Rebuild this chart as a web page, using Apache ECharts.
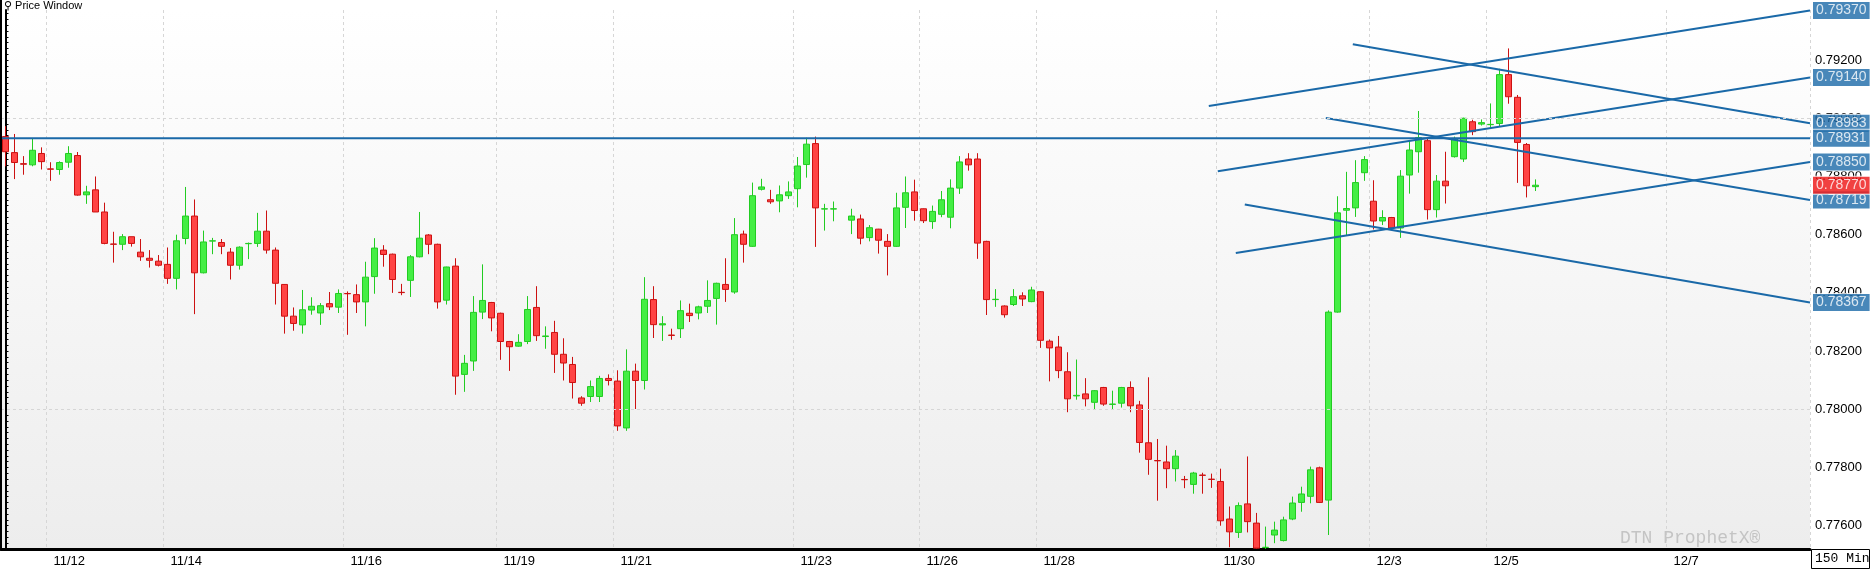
<!DOCTYPE html>
<html>
<head>
<meta charset="utf-8">
<script src="https://cdn.jsdelivr.net/npm/echarts@6/dist/echarts.min.js"></script>
<style>
  html, body { margin: 0; padding: 0; background: #fff; }
  #chart { width: 1870px; height: 569px; }
</style>
</head>
<body>
<div id="chart"></div>
<script>
// 150 Min bars, values in 1/10000 (pips): [open, close, low, high]
var bars = [
  [7893.7,7888.5,7883.5,7897.3],[7888.2,7884.8,7879.1,7894.6],[7884.4,7884.2,7880.6,7887],[7884,7889,7883.5,7893],
  [7887.9,7885.1,7882.4,7890],[7882.6,7882.5,7878.5,7884.9],[7882.4,7884.8,7880.6,7885.2],[7884.9,7887.9,7883,7890.4],
  [7887.2,7873.6,7873.4,7888.4],[7873.7,7874.7,7870.6,7876.8],[7875.4,7867.8,7867.8,7880],[7867.8,7857,7856.7,7871],
  [7856.8,7856.7,7850.4,7861],[7856.7,7859.3,7854.7,7860.2],[7859.3,7857,7855.9,7859.3],[7854,7852.4,7851,7858.5],
  [7851.9,7851.2,7848.7,7854.7],[7850.9,7849.5,7849.1,7853],[7849.8,7845,7843.1,7855.6],[7845,7857.9,7841.2,7860],
  [7858.7,7866.4,7856.7,7876.4],[7866.4,7846.9,7832.7,7872.1],[7846.9,7857.5,7846.7,7861.4],[7857.8,7857.9,7853.3,7858.9],
  [7857.3,7856,7853.3,7858.5],[7854,7849.5,7844.6,7855.4],[7849.5,7855.7,7848,7856],[7856.9,7857,7851.6,7857.3],
  [7857,7861.2,7855.8,7867.5],[7861.2,7854.7,7853.5,7868.3],[7854.7,7843.3,7836,7855.6],[7842.9,7832,7826,7843],
  [7832,7829.5,7827,7835],[7829,7834.2,7826,7841],[7834.1,7835.4,7832.5,7838.5],[7833.1,7835.6,7829,7836.5],
  [7836.3,7835.2,7834.1,7840.3],[7835.1,7839.8,7833.1,7841.2],[7839.8,7839.7,7825.6,7840.5],[7839.4,7836.9,7833.1,7842.9],
  [7836.9,7845.4,7828.5,7850.7],[7845.6,7855.4,7839.7,7858.8],[7854.7,7853.2,7849,7856.4],[7853.3,7844.6,7840,7853.5],
  [7840.2,7840.1,7839.2,7843.1],[7844.3,7852.4,7838.6,7853],[7852.4,7858.8,7852.2,7867.8],[7859.9,7856.7,7853.3,7860.2],
  [7856.7,7836.9,7834.6,7856.9],[7837.5,7848.9,7836,7849],[7849.2,7811.4,7805,7851.9],[7812,7815.8,7806,7818.7],
  [7816.6,7833.3,7813.2,7838.9],[7833.4,7837.4,7831,7849.8],[7836.7,7831.4,7826.8,7836.9],[7833,7823.3,7817,7833.2],
  [7823.3,7821.5,7813.2,7823.5],[7821.7,7823,7821.5,7825.8],[7823.3,7834.3,7822.4,7838.9],[7835,7825.3,7823.5,7842.3],
  [7825,7825.2,7820.8,7828.5],[7826.4,7818.9,7812.5,7830.4],[7818.9,7815.9,7809.9,7824.4],[7815.4,7809.2,7803.7,7818],
  [7803.9,7802.1,7801.2,7804.5],[7804.4,7807.8,7802.5,7809.9],[7804.4,7810.6,7802.5,7811.5],[7810.6,7809.9,7808.2,7812],
  [7809.7,7794.3,7792.6,7813.4],[7793.6,7813.1,7792.6,7820.6],[7813.1,7809.9,7800.1,7815.7],[7809.9,7837.8,7806.8,7845.4],
  [7837.7,7829.1,7824.5,7842.3],[7829,7829.4,7823.5,7832],[7825.5,7825.4,7823.9,7827.7],[7827.7,7833.9,7824.5,7837.4],
  [7833,7832.2,7830,7836.3],[7833.1,7835.2,7830.9,7835.6],[7835.4,7837.4,7833.1,7844.3],[7838.1,7843.3,7829.1,7843.5],
  [7842.9,7841.2,7836.9,7851.9],[7840.3,7860,7839.7,7865.7],[7860.2,7856.7,7850.4,7861.4],[7856,7873.4,7855.8,7877.9],
  [7875.6,7876.4,7875.2,7879.2],[7872,7871.3,7870.6,7875.4],[7871.6,7873.7,7867.7,7876.9],[7873.4,7874.7,7872.3,7878.3],
  [7875.8,7883.6,7869.4,7886.7],[7884.1,7891.1,7879.6,7893.3],[7891.3,7869.2,7855.8,7893.7],[7868.8,7868.9,7861.4,7870.6],
  [7868.8,7868.9,7864.6,7871.4],'-',[7865,7866.4,7860.2,7868.9],[7865.4,7858.8,7856.7,7866.9],
  [7859,7862.4,7857.7,7863.3],[7861.9,7858.1,7853.5,7862],[7857.7,7856,7846,7860.2],[7856,7869.2,7855.8,7874.4],
  [7869.4,7874.4,7862.3,7880],[7874.7,7868.3,7864.8,7878.9],[7868.9,7864.8,7864,7869],[7864.5,7868,7862,7870],
  [7867,7872,7866,7875],[7866,7876,7862.2,7879],[7876,7885,7874,7887],[7886,7884,7882,7888],
  [7886,7857.1,7851.7,7888],[7857.7,7837.7,7832.4,7857.9],[7837.7,7837.8,7835.2,7841.3],[7835.5,7832.5,7831.5,7835.7],
  [7836,7838.7,7835.5,7841.3],[7839,7837.9,7835.5,7840.2],[7837,7841,7836.8,7842.1],[7840.4,7823.7,7821.1,7840.6],
  [7823.4,7821.1,7809.6,7824],[7821.4,7813.3,7810.7,7825.2],[7812.9,7803.6,7799,7819.6],[7804.6,7804.8,7803.3,7817.1],
  [7805.3,7803.6,7801,7810.7],[7802.4,7806.4,7799.8,7806.6],[7807.5,7801.8,7801.2,7807.7],[7801.7,7801.8,7800.1,7806.4],
  [7802.1,7807.5,7800.6,7807.7],[7807.5,7801.2,7799,7809.6],[7801.5,7788.6,7785.1,7802.9],[7788.5,7782.8,7777.5,7811],
  [7782.4,7782.3,7768.6,7789.8],[7781.9,7779.6,7772.9,7787.5],[7779.6,7783.9,7775.2,7786],[7775.9,7775.8,7772.9,7777.1],
  [7774.2,7778.1,7771,7778.5],[7777.4,7777.3,7771,7778.2],[7776,7775.9,7773,7777.9],[7775.2,7761.7,7760,7779.6],
  [7762.3,7757.9,7752.6,7766.6],[7757.7,7766.9,7755.8,7768],[7767.5,7761.4,7757.7,7783.8],[7760.9,7752.3,7752,7764.4],
  [7752.5,7752.6,7752,7759.7],[7756.8,7758.5,7754,7761.4],[7754.9,7762,7754.6,7763.1],[7762.3,7767.8,7761.9,7770],
  [7768,7770.9,7764.8,7773.4],[7770.1,7779.2,7767.7,7780.3],[7779.9,7768,7767.8,7780.3],[7768.8,7833.4,7756.8,7834],
  [7833.4,7867.5,7833.2,7873.2],[7868.4,7869,7859.8,7881.6],[7869.2,7877.9,7866.1,7885.6],[7881.3,7885.8,7878.5,7887],
  [7871.5,7864.7,7861.8,7878.7],[7864.7,7865.9,7863.3,7868.4],[7865.9,7862.3,7861.8,7866.1],[7862.3,7880.1,7858.9,7882.2],
  [7880.5,7889.1,7874.1,7892.5],[7888.5,7893.4,7881.3,7902.5],[7892.3,7868.6,7865.2,7893.1],[7868.6,7878.4,7865.9,7880.5],
  [7878.4,7876.8,7870.7,7888.5],[7886.8,7893.1,7886.5,7893.7],[7886,7900,7885,7900.2],[7898.8,7895.4,7894.2,7899.5],
  [7898,7898.5,7897.5,7899.6],[7897.8,7897.9,7896.5,7905.1],[7898.2,7915,7897,7917],[7915,7907.4,7905,7924],
  [7907.2,7891.7,7877.8,7908],[7891,7876.8,7872.8,7891.5],[7876.5,7877,7875,7879]
];
var slotCount = 201;
// date labels: bar index -> text
var dateIdx = [5, 18, 38, 55, 68, 88, 102, 115, 135, 152, 165, 185];
var dateTxt = ['11/12','11/14','11/16','11/19','11/21','11/23','11/26','11/28','11/30','12/3','12/5','12/7'];
var yGrid = [0.776, 0.778, 0.780, 0.782, 0.784, 0.786, 0.788, 0.790, 0.792];
// trend lines: [startIndex, startPrice, endIndex, endPrice]
var trends = [
  [133.7, 0.79042, 200.5, 0.79370],
  [149.7, 0.79254, 200.5, 0.78983],
  [134.7, 0.78818, 200.5, 0.79140],
  [146.7, 0.79001, 200.5, 0.78719],
  [136.7, 0.78537, 200.5, 0.78850],
  [137.7, 0.78704, 200.5, 0.78367],
  [-0.5, 0.78931, 200.5, 0.78931]
];
var boxVals = [0.79370, 0.79140, 0.78983, 0.78931, 0.78850, 0.78719, 0.78367];
var lastPrice = 0.78770;

var cats = [], ohlc = [];
for (var i = 0; i < slotCount; i++) {
  cats.push(i);
  var b = bars[i];
  if (b && b !== '-') ohlc.push(b.map(function (v) { return v / 10000; }));
  else ohlc.push('-');
}
function dateAt(i) { return dateIdx.indexOf(i); }

var series = [{
  type: 'candlestick',
  data: ohlc,
  barWidth: 7,
  itemStyle: {
    color: '#44ee44', color0: '#ff4444',
    borderColor: '#22cc22', borderColor0: '#cc1111', borderWidth: 1
  },
  markLine: {
    silent: true, symbol: 'none', animation: false,
    label: { show: false },
    lineStyle: { color: '#d6d6d6', type: [3, 3], width: 1 },
    data: yGrid.map(function (v) { return { yAxis: v }; })
  },
  z: 3
}];
trends.forEach(function (t) {
  series.push({
    type: 'line', xAxisIndex: 1, symbol: 'none', silent: true, animation: false,
    data: [[t[0], t[1]], [t[2], t[3]]],
    lineStyle: { color: '#1a69a8', width: 2 }, z: 4
  });
});
var boxes = boxVals.map(function (v) {
  return { value: [200.5, v], label: { backgroundColor: '#1a69a8' } };
});
boxes.push({ value: [200.5, lastPrice], label: { backgroundColor: '#ee1111' } });
series.push({
  type: 'scatter', xAxisIndex: 1, symbolSize: 0, silent: true, animation: false,
  data: boxes,
  label: {
    show: true, position: 'right', distance: 3,
    formatter: function (p) { return p.value[1].toFixed(5); },
    color: '#fff', fontFamily: 'Arial', fontSize: 14,
    padding: [2, 3, 1, 3], borderColor: '#fff', borderWidth: 1
  },
  z: 10
});

var chart = echarts.init(document.getElementById('chart'));
chart.setOption({
  animation: false,
  grid: {
    left: 1, right: 60, top: 10, bottom: 20, show: true,
    borderWidth: 0,
    backgroundColor: new echarts.graphic.LinearGradient(0, 0, 0, 1, [
      { offset: 0, color: '#ffffff' }, { offset: 1, color: '#ededed' }
    ])
  },
  xAxis: [{
    type: 'category', data: cats, boundaryGap: true,
    axisLine: { lineStyle: { color: '#000', width: 3 } },
    axisTick: { alignWithLabel: true, length: 6, lineStyle: { color: '#000' },
      interval: function (i) { return dateAt(i) >= 0; } },
    axisLabel: {
      interval: function (i) { return dateAt(i) >= 0; },
      formatter: function (v) { return dateTxt[dateAt(+v)] || ''; },
      align: 'left', padding: [0, 0, 0, 3], margin: 6,
      color: '#000', fontFamily: 'Arial', fontSize: 13
    },
    splitLine: { show: true, interval: function (i) { return dateAt(i) >= 0; },
      lineStyle: { color: '#d6d6d6', type: [3, 3] } }
  }, {
    type: 'value', min: -0.5, max: slotCount - 0.5, show: false
  }],
  yAxis: {
    type: 'value', position: 'right', min: 0.7752, max: 0.79372, interval: 0.0002,
    scale: true,
    axisLine: { show: true, lineStyle: { color: '#000', width: 2 } },
    axisTick: { show: true, length: 3, lineStyle: { color: '#000' } },
    splitLine: { show: false },
    axisLabel: {
      showMinLabel: false, showMaxLabel: false, margin: 5,
      color: '#000', fontFamily: 'Arial', fontSize: 13,
      formatter: function (v) {
        return Math.round(v * 10000) % 20 === 0 ? v.toFixed(5) : '';
      }
    }
  },
  graphic: [
    { type: 'line', z: 20, shape: { x1: 1, y1: 0, x2: 1, y2: 549 }, style: { stroke: '#000', lineWidth: 2 } },
    { type: 'text', left: 4, top: 0, z: 20,
      style: { text: '⚲ Price Window', fontSize: 11, fontFamily: 'Arial', fill: '#000' } },
    { type: 'text', left: 1620, top: 529, z: 20,
      style: { text: 'DTN ProphetX®', fontSize: 18, fontFamily: 'Liberation Mono', fill: '#c4c4c4' } },
    { type: 'rect', left: 1811, top: 549, z: 20,
      shape: { width: 58, height: 19 }, style: { fill: '#fff', stroke: '#000', lineWidth: 1 } },
    { type: 'text', left: 1815, top: 552, z: 21,
      style: { text: '150 Min', fontSize: 13, fontFamily: 'Liberation Mono', fill: '#000' } }
  ],
  series: series
});
</script>
</body>
</html>
